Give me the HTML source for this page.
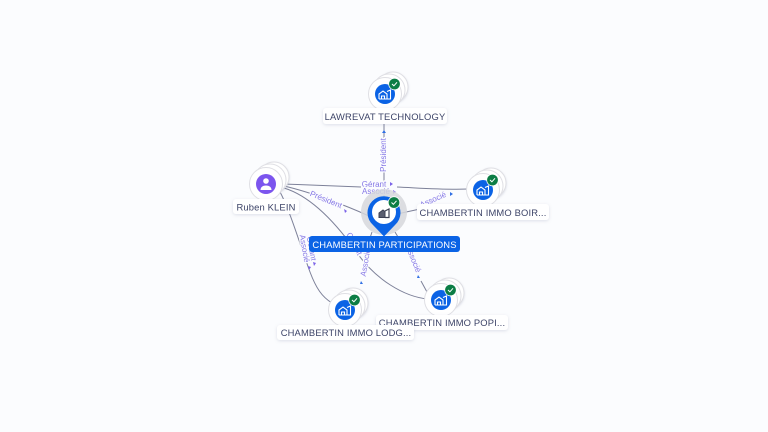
<!DOCTYPE html>
<html>
<head>
<meta charset="utf-8">
<style>
html,body{margin:0;padding:0;width:768px;height:432px;overflow:hidden;background:#fbfcfe}
svg{display:block}
text{font-family:"Liberation Sans",sans-serif}
.lab{font-size:9.4px;fill:#3d4468;text-anchor:middle;letter-spacing:.16px}
.el{font-size:8px;fill:#8577e6;text-anchor:middle;stroke:#fbfcfe;stroke-width:2.500px;paint-order:stroke}
.edge{fill:none;stroke:#7d8199;stroke-width:1}
.w{fill:#fff;stroke:#dfdfe4;stroke-width:1}
.box{fill:#fff;filter:url(#s)}
.tri{fill:#2f6fe4}
.trp{fill:#7c63e8}
</style>
</head>
<body>
<svg width="768" height="432" viewBox="0 0 768 432" xmlns="http://www.w3.org/2000/svg">
<defs>
<filter id="s" x="-20%" y="-50%" width="140%" height="200%"><feDropShadow dx="0" dy="1" stdDeviation="1.5" flood-color="#8088a8" flood-opacity=".25"/></filter>
<filter id="n" x="-30%" y="-30%" width="160%" height="160%"><feDropShadow dx="0" dy="1" stdDeviation="1" flood-color="#8088a8" flood-opacity=".3"/></filter>
<g id="stack">
<circle class="w" cx="8" cy="-7" r="15" filter="url(#n)"/>
<circle class="w" cx="4" cy="-4" r="16"/>
<circle class="w" cx="0" cy="0" r="16.500"/>
</g>
<g id="co">
<use href="#stack"/>
<circle r="10" fill="#0b63e5"/>
<path d="M-6 5V0L-2 -3L2 0V5H-6M-3.500 5V2H-.5V5M2 -2.500L5.500 -4V5H2" fill="none" stroke="#fff" stroke-width="1.100"/>
<circle cx="9.500" cy="-10" r="5.800" fill="#0c7d45" stroke="#fff" stroke-width=".8"/>
<path d="M7 -10L8.900 -8.200L12 -11.700" fill="none" stroke="#fff" stroke-width="1"/>
</g>
</defs>

<!-- edges -->
<path class="edge" d="M384 124V196"/>
<path class="edge" d="M282 184C310 185 340 186 361 187"/>
<path class="edge" d="M397 187C420 188 445 190 468 189"/>
<path class="edge" d="M284 186C310 192 345 205 369 216"/>
<path class="edge" d="M284 188C310 196 335 222 355 250C375 280 405 297 428 299"/>
<path class="edge" d="M279 190C290 210 300 245 310 272C316 288 322 297 332 303"/>
<path class="edge" d="M372 232L366 250"/>
<path class="edge" d="M395 232L404 247M421 281L427 292"/>
<path class="edge" d="M397 214L420 209"/>

<!-- edge labels -->
<text class="el" transform="translate(386 155) rotate(-90)">Président</text>
<text class="el" x="374" y="187">Gérant</text>
<text class="el" x="376" y="194">Associé</text>
<text class="el" transform="translate(325 202) rotate(22)">Président</text>
<text class="el" transform="translate(434 202) rotate(-24)">Associé</text>
<text class="el" transform="translate(309 249) rotate(80)">Gérant</text>
<text class="el" transform="translate(302 249) rotate(80)">Associé</text>
<text class="el" transform="translate(352 245) rotate(62)">Gérant</text>
<text class="el" transform="translate(368 263) rotate(-80)">Associé</text>
<text class="el" transform="translate(411 260) rotate(68)">Associé</text>

<!-- arrowheads -->
<path class="tri" d="M384 130l2 3h-4z"/>
<path class="trp" d="M390 182l3 2-3 2z"/>
<path class="trp" d="M393 190l3 2-3 2z"/>
<path class="trp" d="M344 209l3 2-2 2z"/>
<path class="tri" d="M450 192l3 2-3 2z"/>
<path class="trp" d="M308 266l3 1-2 3z"/>
<path class="trp" d="M313 262l3 1-2 3z"/>
<path class="tri" d="M361 281l2 3-3 0z"/>
<path class="tri" d="M418 275l2 3-3 0z"/>

<!-- nodes -->
<use href="#co" x="385" y="94"/>
<use href="#co" x="483" y="190"/>
<use href="#co" x="441" y="300"/>
<use href="#co" x="345" y="310"/>

<use href="#stack" x="266" y="184"/>
<circle cx="266" cy="184" r="10" fill="#7c55ee"/>
<circle cx="266" cy="181" r="2.800" fill="#fff"/>
<path d="M260.500 190c0-3 2.500-4.500 5.500-4.500s5.500 1.500 5.500 4.500z" fill="#fff"/>

<!-- centre pin -->
<circle cx="384" cy="212" r="23" fill="#d6d7dc" opacity=".85"/>
<path d="M384 236.500L373 225A16.500 16.500 0 1 1 395 225Z" fill="#0b63e5"/>
<circle cx="384" cy="212" r="12" fill="#fff"/>
<path d="M379 217.500V213L383 210L385 211.500V217.500Z" fill="#5a5e70" stroke="#3d4154" stroke-width="1"/>
<path d="M385 211L389 209V217.500H385" fill="none" stroke="#3d4154" stroke-width="1.200"/>
<circle cx="394" cy="202.500" r="5.800" fill="#0c7d45" stroke="#fff" stroke-width=".8"/>
<path d="M391.500 202.500L393.400 204.300L396.500 200.800" fill="none" stroke="#fff" stroke-width="1"/>

<!-- labels -->
<rect class="box" x="323" y="108" width="124" height="16" rx="3"/>
<text class="lab" x="385" y="120">LAWREVAT TECHNOLOGY</text>
<rect class="box" x="233" y="199" width="66" height="15" rx="3"/>
<text class="lab" x="266" y="210.500">Ruben KLEIN</text>
<rect class="box" x="417" y="204" width="132" height="16" rx="3"/>
<text class="lab" x="483" y="216">CHAMBERTIN IMMO BOIR...</text>
<rect class="box" x="376" y="315" width="132" height="15" rx="3"/>
<text class="lab" x="442" y="326">CHAMBERTIN IMMO POPI...</text>
<rect class="box" x="277" y="325" width="137" height="15" rx="3"/>
<text class="lab" x="346" y="336">CHAMBERTIN IMMO LODG...</text>
<rect x="309" y="236" width="151" height="16" rx="3" fill="#0b63e5"/>
<text class="lab" x="384.500" y="248" style="fill:#fff">CHAMBERTIN PARTICIPATIONS</text>
</svg>
</body>
</html>
